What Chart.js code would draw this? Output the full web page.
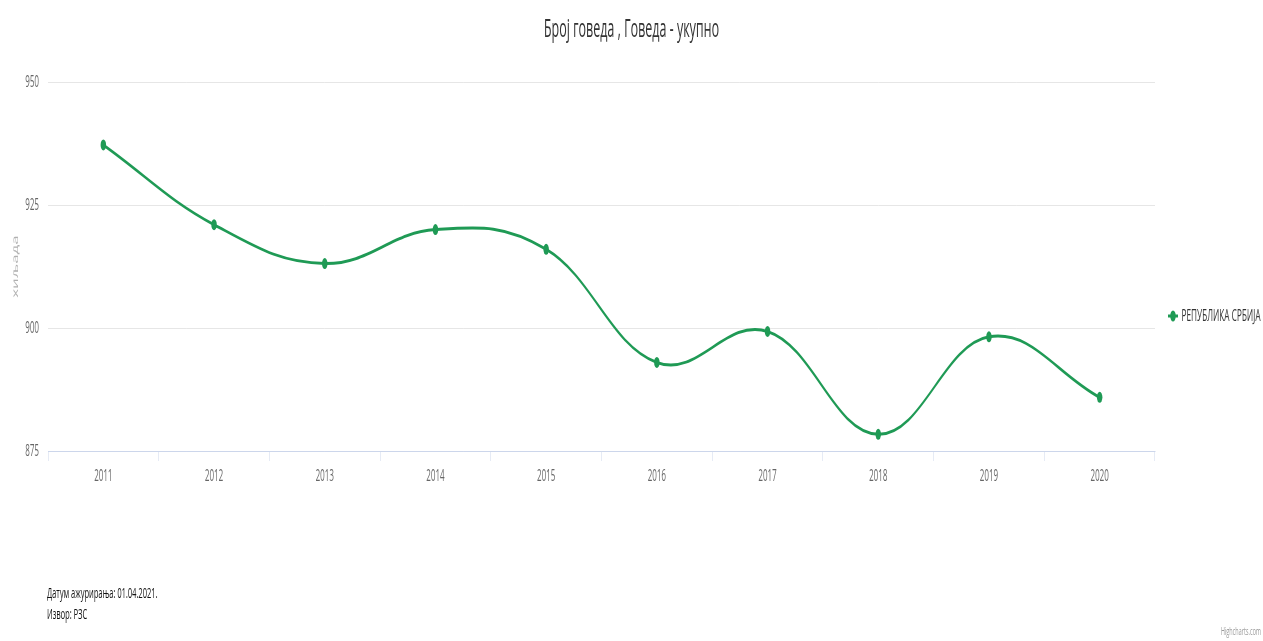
<!DOCTYPE html>
<html>
<head>
<meta charset="utf-8">
<script src="https://cdn.jsdelivr.net/npm/chart.js@4/dist/chart.umd.min.js"></script>
<style>
  html, body { margin: 0; padding: 0; overflow: hidden; background: #fff; }
  /* The chart is laid out on a wide canvas and squeezed horizontally */
  #wrap { width: 2526px; height: 641px; transform: scaleX(0.5); transform-origin: 0 0; }
</style>
</head>
<body>
<div id="wrap"><canvas id="c"></canvas></div>
<script>
// Број говеда (хиљада), Република Србија
const years = ['2011', '2012', '2013', '2014', '2015', '2016', '2017', '2018', '2019', '2020'];
const cattle = [937.2, 921.0, 913.1, 920.0, 916.0, 893.0, 899.3, 878.4, 898.2, 885.9];
const yTicks = [875, 900, 925, 950];
const seriesName = 'РЕПУБЛИКА СРБИЈА';
const titleText = 'Број говеда , Говеда - укупно';
const footerLines = ['Датум ажурирања: 01.04.2021.', 'Извор: РЗС'];

const GREEN = '#1f9a55';
const FONT = "'Open Sans', 'Noto Sans', sans-serif";

// legend, footer notes and credit drawn in the free margins
const extras = {
  id: 'extras',
  afterDraw(chart) {
    const ctx = chart.ctx;
    ctx.save();
    const ly = 316;
    ctx.strokeStyle = GREEN;
    ctx.lineWidth = 3;
    ctx.beginPath();
    ctx.moveTo(2336, ly);
    ctx.lineTo(2356, ly);
    ctx.stroke();
    ctx.fillStyle = GREEN;
    ctx.beginPath();
    ctx.arc(2346, ly, 5.5, 0, Math.PI * 2);
    ctx.fill();
    ctx.fillStyle = '#333';
    ctx.font = '16.5px ' + FONT;
    ctx.textBaseline = 'middle';
    ctx.textAlign = 'left';
    ctx.fillText(seriesName, 2363, ly);

    ctx.fillStyle = '#111';
    ctx.font = '15px ' + FONT;
    ctx.fillText(footerLines[0], 94, 594);
    ctx.fillText(footerLines[1], 94, 615);

    ctx.fillStyle = '#999';
    ctx.font = '11px ' + FONT;
    ctx.textAlign = 'right';
    ctx.fillText('Highcharts.com', 2522, 632);
    ctx.restore();
  }
};

new Chart(document.getElementById('c'), {
  type: 'line',
  data: {
    labels: years,
    datasets: [{
      label: seriesName,
      data: cattle,
      borderColor: GREEN,
      backgroundColor: GREEN,
      borderWidth: 3,
      tension: 0.4,
      pointRadius: 5.5,
      pointBorderWidth: 0,
      pointHoverRadius: 5.5,
      fill: false
    }]
  },
  options: {
    responsive: true,
    maintainAspectRatio: false,
    animation: false,
    devicePixelRatio: 1,
    layout: { padding: { left: 0, right: 0, top: 0, bottom: 150 } },
    plugins: {
      legend: { display: false },
      tooltip: { enabled: false },
      title: {
        display: true,
        text: titleText,
        color: '#333',
        font: { family: FONT, size: 25, weight: 'normal' },
        padding: { top: 15, bottom: 37 }
      }
    },
    scales: {
      x: {
        offset: true,
        grid: {
          offset: true,
          drawOnChartArea: false,
          drawTicks: true,
          tickLength: 10,
          color: '#ccd6eb',
          lineWidth: 1
        },
        border: { display: true, color: '#ccd6eb', width: 1 },
        ticks: {
          color: '#666',
          font: { family: FONT, size: 16 },
          padding: 6,
          maxRotation: 0,
          autoSkip: false
        },
        afterFit(scale) { scale.height = 40; }
      },
      y: {
        min: 875,
        max: 950,
        afterBuildTicks(scale) { scale.ticks = yTicks.map(v => ({ value: v })); },
        grid: { color: '#e6e6e6', lineWidth: 1, drawTicks: false },
        border: { display: false },
        ticks: {
          color: '#666',
          font: { family: FONT, size: 16 },
          padding: 18
        },
        title: {
          display: true,
          text: 'хиљада',
          color: '#b0b0b0',
          font: { family: FONT, size: 17 },
          padding: { top: 21, bottom: 0 }
        },
        afterFit(scale) { scale.width = 96; }
      },
      // empty right-hand margin that holds the legend
      side: {
        position: 'right',
        display: true,
        min: 875,
        max: 950,
        grid: { display: false, drawTicks: false },
        border: { display: false },
        ticks: { display: false },
        afterFit(scale) { scale.width = 216; }
      }
    }
  },
  plugins: [extras]
});
</script>
</body>
</html>
